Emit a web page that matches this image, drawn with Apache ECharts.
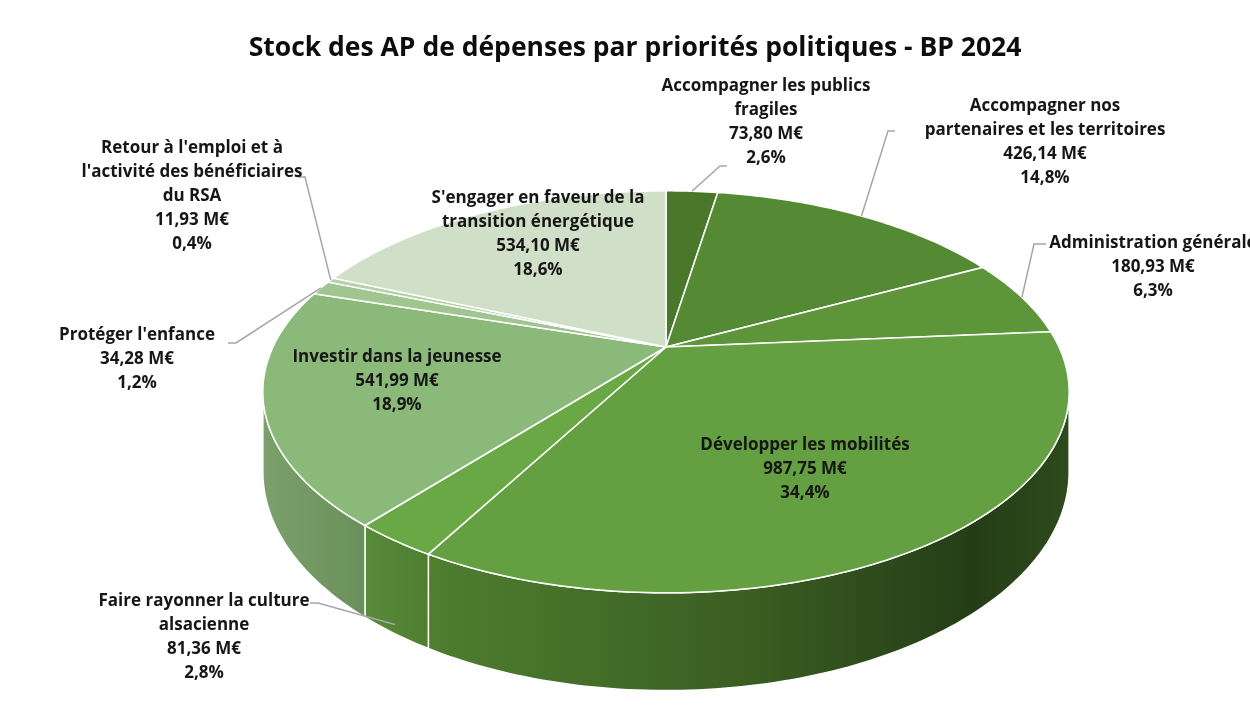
<!DOCTYPE html>
<html>
<head>
<meta charset="utf-8">
<title>Stock des AP de dépenses par priorités politiques - BP 2024</title>
<script src="https://cdn.jsdelivr.net/npm/echarts@6/dist/echarts.min.js"></script>
<style>
html, body { margin: 0; padding: 0; background: #fff; overflow: hidden; }
#chart { width: 1250px; height: 717px; }
</style>
</head>
<body>
<div id="chart"></div>
<script>
// données
var titre = 'Stock des AP de dépenses par priorités politiques - BP 2024';
var categories = [
	'Accompagner les publics\nfragiles',
	'Accompagner nos\npartenaires et les territoires',
	'Administration générale',
	'Développer les mobilités',
	'Faire rayonner la culture\nalsacienne',
	'Investir dans la jeunesse',
	"Protéger l'enfance",
	"Retour à l'emploi et à\nl'activité des bénéficiaires\ndu RSA",
	"S'engager en faveur de la\ntransition énergétique"
];
var montants = [73.80, 426.14, 180.93, 987.75, 81.36, 541.99, 34.28, 11.93, 534.10];

// couleurs des parts (dessus) et des flancs
var couleurs = ['#4b772b', '#558a35', '#5d953a', '#64a041', '#6aa845', '#8bb97a', '#a0c590', '#b6d1a9', '#d0dfc8'];
var flancs = {
	3: [[0, '#4f7e2f'], [0.5, '#3a5e22'], [0.85, '#253d17'], [1, '#2e4b1c']],
	4: [[0, '#598c39'], [1, '#4e7d30']],
	5: [[0, '#7ca06b'], [1, '#6a905a']]
};

// position des étiquettes (haut du texte) et coudes des traits de rappel
var etiquettes = [
	{ x: 766, y: 74, coude: [[727, 166], [720, 166]], z: 0 },
	{ x: 1045, y: 94, coude: [[895, 131], [888, 131]], z: 0 },
	{ x: 1153, y: 231, coude: [[1046, 244], [1034, 244]], z: 0 },
	{ x: 805, y: 433, coude: null },
	{ x: 204, y: 589, coude: [[310, 603], [318, 603]], z: -0.9 },
	{ x: 397, y: 345, coude: null },
	{ x: 137, y: 323, coude: [[228, 343], [236, 343]], z: 0 },
	{ x: 192, y: 136, coude: [[298, 177], [305, 177]], z: 0 },
	{ x: 538, y: 186, coude: null }
];

var total = montants.reduce(function (a, b) { return a + b; }, 0);
var debut = [], fin = [];
var acc = 0;
montants.forEach(function (v) {
	debut.push(acc / total);
	acc += v;
	fin.push(acc / total);
});

// projection en perspective du camembert 3D
var CX = 666, CY = 347, S = 393, SK = 191, SM = 76, P = 0.223;
function projeter(theta, r, z) {
	var u = r * Math.sin(theta), v = r * Math.cos(theta);
	var w = 1 + P * v;
	return [CX + S * u / w, CY - (SK * v + SM * z) / w];
}
var DEUXPI = Math.PI * 2;
var lim0 = Math.acos(-P), lim1 = DEUXPI - lim0;

function arc(a0, a1, z) {
	var pts = [];
	var n = Math.max(2, Math.ceil((a1 - a0) / (Math.PI / 180)));
	for (var k = 0; k <= n; k++) pts.push(projeter(a0 + (a1 - a0) * k / n, 1, z));
	return pts;
}

function renderFlanc(params, api) {
	var i = params.dataIndex;
	var a0 = Math.max(debut[i] * DEUXPI, lim0);
	var a1 = Math.min(fin[i] * DEUXPI, lim1);
	if (a1 <= a0) return { type: 'group', children: [] };
	var pts = arc(a0, a1, 0).concat(arc(a0, a1, -1).reverse());
	var stops = (flancs[i] || [[0, couleurs[i]], [1, couleurs[i]]]).map(function (s) {
		return { offset: s[0], color: s[1] };
	});
	return {
		type: 'polygon',
		shape: { points: pts },
		style: { fill: new echarts.graphic.LinearGradient(0, 0, 1, 0, stops), stroke: '#fff', lineWidth: 1.5 }
	};
}

function renderDessus(params, api) {
	var i = params.dataIndex;
	var pts = [projeter(0, 0, 0)].concat(arc(debut[i] * DEUXPI, fin[i] * DEUXPI, 0));
	return {
		type: 'polygon',
		shape: { points: pts },
		style: { fill: couleurs[i], stroke: '#fff', lineWidth: 1.5 }
	};
}

function fmt(v, d) { return v.toFixed(d).replace('.', ','); }

function renderEtiquette(params, api) {
	var i = params.dataIndex;
	var v = api.value(0);
	var e = etiquettes[i];
	var enfants = [];
	if (e.coude) {
		var milieu = (debut[i] + fin[i]) / 2 * DEUXPI;
		var bout = projeter(milieu, 1, e.z);
		enfants.push({
			type: 'polyline',
			shape: { points: e.coude.concat([bout]) },
			style: { stroke: '#a6a6a6', lineWidth: 1.5, fill: null }
		});
	}
	enfants.push({
		type: 'text',
		x: e.x, y: e.y,
		style: {
			text: categories[i] + '\n' + fmt(v, 2) + ' M€\n' + fmt(v / total * 100, 1) + '%',
			textAlign: 'center',
			textVerticalAlign: 'top',
			font: 'bold 17px "Open Sans"',
			lineHeight: 24,
			fill: '#161616'
		}
	});
	return { type: 'group', children: enfants };
}

var chart = echarts.init(document.getElementById('chart'));
chart.setOption({
	animation: false,
	backgroundColor: '#fff',
	graphic: [{
		type: 'text',
		x: 635, y: 48,
		style: {
			text: titre,
			textAlign: 'center',
			textVerticalAlign: 'middle',
			font: 'bold 26.5px "Open Sans"',
			fill: '#0d0d0d'
		}
	}],
	series: [
		{ type: 'custom', name: 'flancs', coordinateSystem: 'none', renderItem: renderFlanc, data: montants, z: 1, silent: true },
		{ type: 'custom', name: 'dessus', coordinateSystem: 'none', renderItem: renderDessus, data: montants, z: 2 },
		{ type: 'custom', name: 'etiquettes', coordinateSystem: 'none', renderItem: renderEtiquette, data: montants, z: 3, silent: true }
	]
});
</script>
</body>
</html>
